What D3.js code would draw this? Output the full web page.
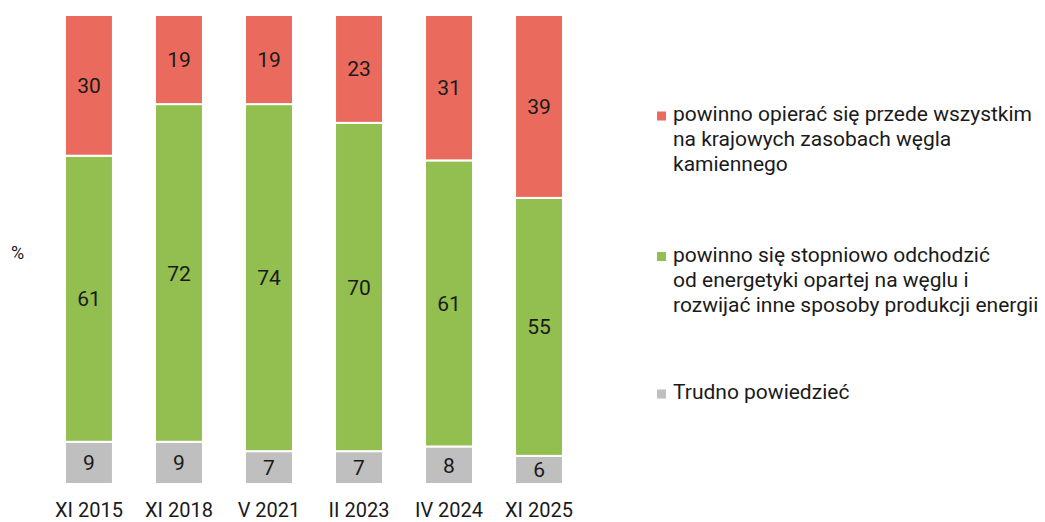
<!DOCTYPE html>
<html>
<head>
<meta charset="utf-8">
<script src="https://cdn.jsdelivr.net/npm/d3@7"></script>
<style>
  body { margin: 0; background: #fff; }
  svg text { font-family: Roboto, "Noto Sans", sans-serif; fill: #1a1a1a; }
</style>
</head>
<body>
<svg id="chart" width="1045" height="522"></svg>
<script>
const PERIODS = ['XI 2015', 'XI 2018', 'V 2021', 'II 2023', 'IV 2024', 'XI 2025'];
const COAL = [30, 19, 19, 23, 31, 39];
const TRANSITION = [61, 72, 74, 70, 61, 55];
const HARD_TO_SAY = [9, 9, 7, 7, 8, 6];

const SERIES_KEYS = ['hard', 'transition', 'coal'];
const SERIES_COLORS = { coal: '#ea6b5d', transition: '#93be50', hard: '#bfbfbf' };
const LEGEND = [
  { key: 'coal', lines: ['powinno opierać się przede wszystkim', 'na krajowych zasobach węgla', 'kamiennego'] },
  { key: 'transition', lines: ['powinno się stopniowo odchodzić', 'od energetyki opartej na węglu i', 'rozwijać inne sposoby produkcji energii'] },
  { key: 'hard', lines: ['Trudno powiedzieć'] }
];

const rows = PERIODS.map((p, i) => ({
  period: p, coal: COAL[i], transition: TRANSITION[i], hard: HARD_TO_SAY[i]
}));

const svg = d3.select('#chart');

const x = d3.scaleBand()
  .domain(PERIODS)
  .range([44, 584])
  .paddingInner(0.467)
  .paddingOuter(0.233);

const y = d3.scaleLinear()
  .domain([0, 100])
  .range([484, 15]);

const stacked = d3.stack().keys(SERIES_KEYS)(rows);

const layers = svg.append('g').selectAll('g')
  .data(stacked)
  .enter().append('g')
  .attr('fill', d => SERIES_COLORS[d.key]);

layers.selectAll('rect')
  .data(d => d)
  .enter().append('rect')
  .attr('x', d => x(d.data.period))
  .attr('y', d => y(d[1]))
  .attr('width', x.bandwidth())
  .attr('height', d => y(d[0]) - y(d[1]))
  .attr('stroke', '#fff')
  .attr('stroke-width', 2);

// values inside the segments
layers.selectAll('text')
  .data(d => d)
  .enter().append('text')
  .attr('x', d => x(d.data.period) + x.bandwidth() / 2)
  .attr('y', d => (y(d[0]) + y(d[1])) / 2)
  .attr('dy', '0.36em')
  .attr('text-anchor', 'middle')
  .style('font-size', '21px')
  .text(d => d[1] - d[0]);

// category labels
svg.append('g').selectAll('text')
  .data(PERIODS)
  .enter().append('text')
  .attr('x', d => x(d) + x.bandwidth() / 2)
  .attr('y', 517)
  .attr('text-anchor', 'middle')
  .style('font-size', '20px')
  .text(d => d);

svg.append('text')
  .attr('x', 11)
  .attr('y', 259)
  .style('font-size', '18px')
  .text('%');

// legend
const legendTop = [121, 261.5, 399];
const legend = svg.append('g').selectAll('g')
  .data(LEGEND)
  .enter().append('g')
  .attr('transform', (d, i) => `translate(657,${legendTop[i]})`);

legend.append('rect')
  .attr('x', 0)
  .attr('y', -9.5)
  .attr('width', 9)
  .attr('height', 9)
  .attr('fill', d => SERIES_COLORS[d.key]);

legend.append('text')
  .style('font-size', '21px')
  .selectAll('tspan')
  .data(d => d.lines)
  .enter().append('tspan')
  .attr('x', 16)
  .attr('y', (d, i) => i * 25)
  .text(d => d);
</script>
</body>
</html>
